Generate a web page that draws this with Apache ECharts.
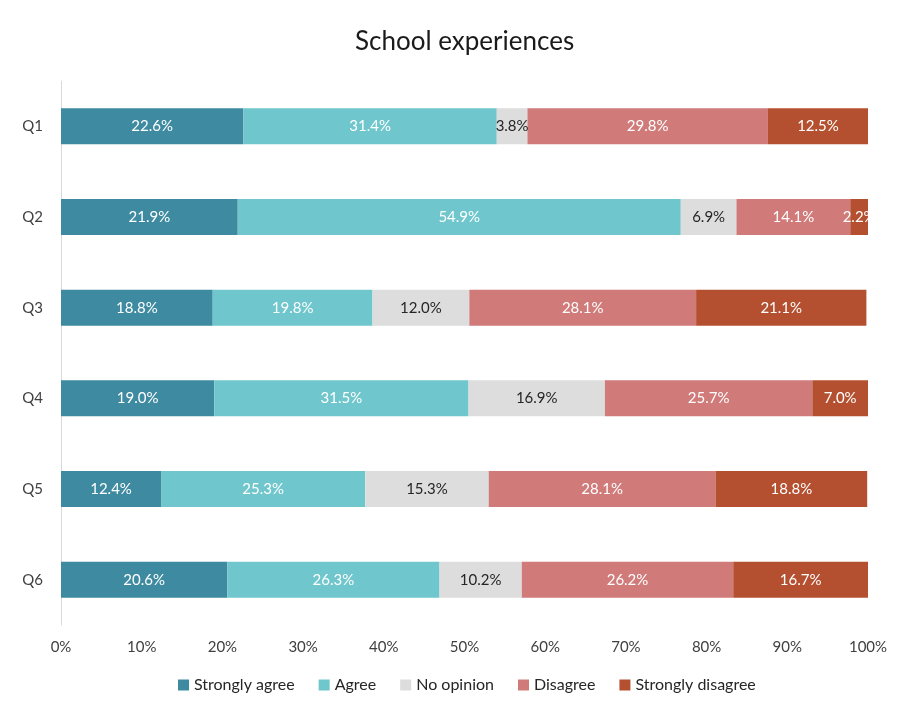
<!DOCTYPE html>
<html>
<head>
<meta charset="utf-8">
<script src="https://cdn.jsdelivr.net/npm/echarts@6/dist/echarts.min.js"></script>
<style>
  html, body { margin: 0; padding: 0; background: #ffffff; }
  #chart { width: 898px; height: 707px; }
</style>
</head>
<body>
<div id="chart"></div>
<script>
// Survey questions and response shares (percent)
const questions = ['Q1', 'Q2', 'Q3', 'Q4', 'Q5', 'Q6'];
const stronglyAgree = [22.6, 21.9, 18.8, 19.0, 12.4, 20.6];
const agree = [31.4, 54.9, 19.8, 31.5, 25.3, 26.3];
const noOpinion = [3.8, 6.9, 12.0, 16.9, 15.3, 10.2];
const disagree = [29.8, 14.1, 28.1, 25.7, 28.1, 26.2];
const stronglyDisagree = [12.5, 2.2, 21.1, 7.0, 18.8, 16.7];
const tickLabels = ['0%', '10%', '20%', '30%', '40%', '50%', '60%', '70%', '80%', '90%', '100%'];

const FONT = 'Lato, "Noto Sans", sans-serif';

const seriesDefs = [
  { name: 'Strongly agree', data: stronglyAgree, color: '#3e8aa1', text: '#ffffff' },
  { name: 'Agree', data: agree, color: '#6fc6cc', text: '#ffffff' },
  { name: 'No opinion', data: noOpinion, color: '#dddddd', text: '#262626' },
  { name: 'Disagree', data: disagree, color: '#d07a7a', text: '#ffffff' },
  { name: 'Strongly disagree', data: stronglyDisagree, color: '#b4502f', text: '#ffffff' }
];

const chart = echarts.init(document.getElementById('chart'), null, { renderer: 'canvas' });

chart.setOption({
  backgroundColor: '#ffffff',
  animation: false,
  title: {
    text: 'School experiences',
    left: 350,
    top: 24,
    textStyle: { fontFamily: FONT, fontSize: 26, fontWeight: 'normal', color: '#1a1a1a' }
  },
  legend: {
    bottom: 9,
    left: 173,
    itemWidth: 11,
    itemHeight: 11,
    itemGap: 24,
    icon: 'rect',
    textStyle: { fontFamily: FONT, fontSize: 16, color: '#262626' },
    data: seriesDefs.map(s => s.name)
  },
  grid: { left: 61, right: 30, top: 81, bottom: 82, containLabel: false },
  xAxis: {
    type: 'value',
    min: 0,
    max: 100,
    interval: 10,
    axisLine: { show: false },
    axisTick: { show: false },
    splitLine: { show: false },
    axisLabel: {
      margin: 15,
      fontFamily: FONT,
      fontSize: 15,
      color: '#404040',
      formatter: v => tickLabels[Math.round(v / 10)]
    }
  },
  yAxis: {
    type: 'category',
    inverse: true,
    data: questions,
    axisLine: { show: true, lineStyle: { color: '#d9d9d9', width: 1 } },
    axisTick: { show: false },
    axisLabel: { margin: 18, fontFamily: FONT, fontSize: 15, color: '#404040' }
  },
  series: seriesDefs.map(s => ({
    name: s.name,
    type: 'bar',
    stack: 'total',
    barWidth: 36,
    data: s.data,
    itemStyle: { color: s.color },
    label: {
      show: true,
      position: 'inside',
      fontFamily: FONT,
      fontSize: 15,
      color: s.text,
      formatter: p => p.value.toFixed(1) + '%'
    }
  }))
});
</script>
</body>
</html>
